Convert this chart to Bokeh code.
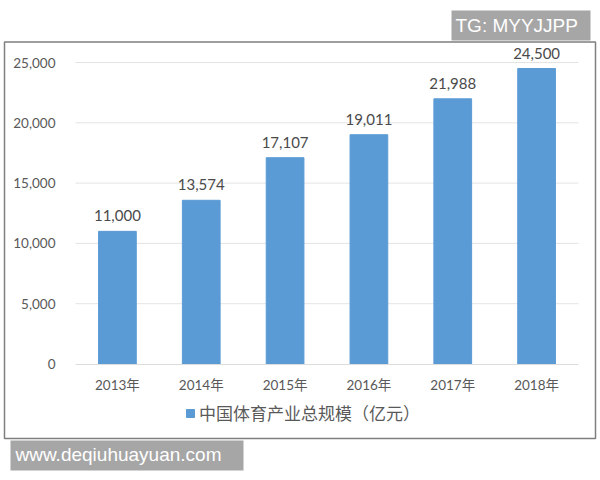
# -*- coding: utf-8 -*-
from bokeh.plotting import figure
from bokeh.core.properties import value
from bokeh.models import (BoxAnnotation, ColumnDataSource, FixedTicker, Label,
                          LabelSet, Legend, LegendItem, LinearAxis, NumeralTickFormatter)
from bokeh.embed import file_html
from bokeh.resources import INLINE

years = ["2013年", "2014年", "2015年", "2016年", "2017年", "2018年"]
values = [11000, 13574, 17107, 19011, 21988, 24500]
value_labels = ["11,000", "13,574", "17,107", "19,011", "21,988", "24,500"]
y_ticks = [0, 5000, 10000, 15000, 20000, 25000]
series_name = "中国体育产业总规模（亿元）"

FONT = "Lato, 'Noto Sans CJK SC', sans-serif"
TEXT = "#595959"
BLUE = "#5b9bd5"

# the plot frame fills the whole page, so that the outer box, the legend and
# the two watermarks can sit around the axes; the ranges are set to put
# the category band at x 75..578 and 0..25000 at y 363.5..62
x_unit = 503 / len(years)
y_unit = 25000 / 301.5
x_range = (-0.5 - 75 / x_unit, len(years) - 0.5 + 22 / x_unit)
y_range = (-(480 - 363.5) * y_unit, 25000 + 62 * y_unit)

p = figure(x_range=x_range, y_range=y_range, width=600, height=480,
           output_backend="svg", toolbar_location=None,
           x_axis_location=None, y_axis_location=None,
           min_border=0, outline_line_color=None)
p.grid.visible = False

positions = list(range(len(years)))
source = ColumnDataSource(dict(pos=positions, value=values, label=value_labels))

# gridlines only span the category band
p.segment(x0=-0.5, x1=len(years) - 0.5, y0=y_ticks[1:], y1=y_ticks[1:],
          line_color="#e4e4e4", line_width=1)

bars = p.vbar(x="pos", top="value", width=0.45, source=source,
              fill_color=BLUE, line_color=BLUE)

p.add_layout(LabelSet(x="pos", y="value", text="label", source=source,
                      text_align="center", text_baseline="bottom", y_offset=10,
                      text_font=value(FONT), text_font_size="15px", text_color="#4a4a4a"))

# axes, fixed inside the frame
xaxis = LinearAxis(fixed_location=0, bounds=(-0.5, len(years) - 0.5),
                   ticker=FixedTicker(ticks=positions),
                   major_label_overrides=dict(zip(positions, years)),
                   axis_line_color="#dcdcdc", major_tick_line_color=None,
                   minor_tick_line_color=None, major_label_standoff=7)
yaxis = LinearAxis(fixed_location=-0.5, bounds=(0, 25000),
                   ticker=FixedTicker(ticks=y_ticks),
                   formatter=NumeralTickFormatter(format="0,0"),
                   axis_line_color=None, major_tick_line_color=None,
                   minor_tick_line_color=None, major_label_standoff=14)
for ax in (xaxis, yaxis):
    ax.major_label_text_font = FONT
    ax.major_label_text_font_size = "13.5px"
    ax.major_label_text_color = TEXT
p.add_layout(xaxis, "below")
p.add_layout(yaxis, "left")

# legend under the axis
legend = Legend(items=[LegendItem(label=series_name, renderers=[bars])],
                location=(185, 55), orientation="horizontal",
                background_fill_alpha=0, border_line_color=None,
                glyph_width=10, glyph_height=10, label_standoff=4,
                label_text_font=FONT, label_text_font_size="17px",
                label_text_color=TEXT, padding=0, margin=0)
p.add_layout(legend, "center")

# outer frame of the chart
p.add_layout(BoxAnnotation(left=4, right=595, top=41.5, bottom=438,
                           left_units="canvas", right_units="canvas",
                           top_units="canvas", bottom_units="canvas",
                           fill_alpha=0, line_color="#7f7f7f", line_alpha=1, line_width=1.5))

# watermark boxes
for left, right, top, bottom in [(451, 590, 10, 40), (10, 243, 440, 470)]:
    p.add_layout(BoxAnnotation(left=left, right=right, top=top, bottom=bottom,
                               left_units="canvas", right_units="canvas",
                               top_units="canvas", bottom_units="canvas",
                               fill_color="#a6a6a6", fill_alpha=1, line_color=None))

p.add_layout(Label(x=455, y=25, x_units="canvas", y_units="canvas", text="TG: MYYJJPP",
                   text_font="Liberation Sans", text_font_size="19px",
                   text_color="white", text_baseline="middle"))
p.add_layout(Label(x=15, y=454, x_units="canvas", y_units="canvas", text="www.deqiuhuayuan.com",
                   text_font="Liberation Sans", text_font_size="19px",
                   text_color="white", text_baseline="middle"))

open("out.html", "w").write(file_html(p, INLINE))
